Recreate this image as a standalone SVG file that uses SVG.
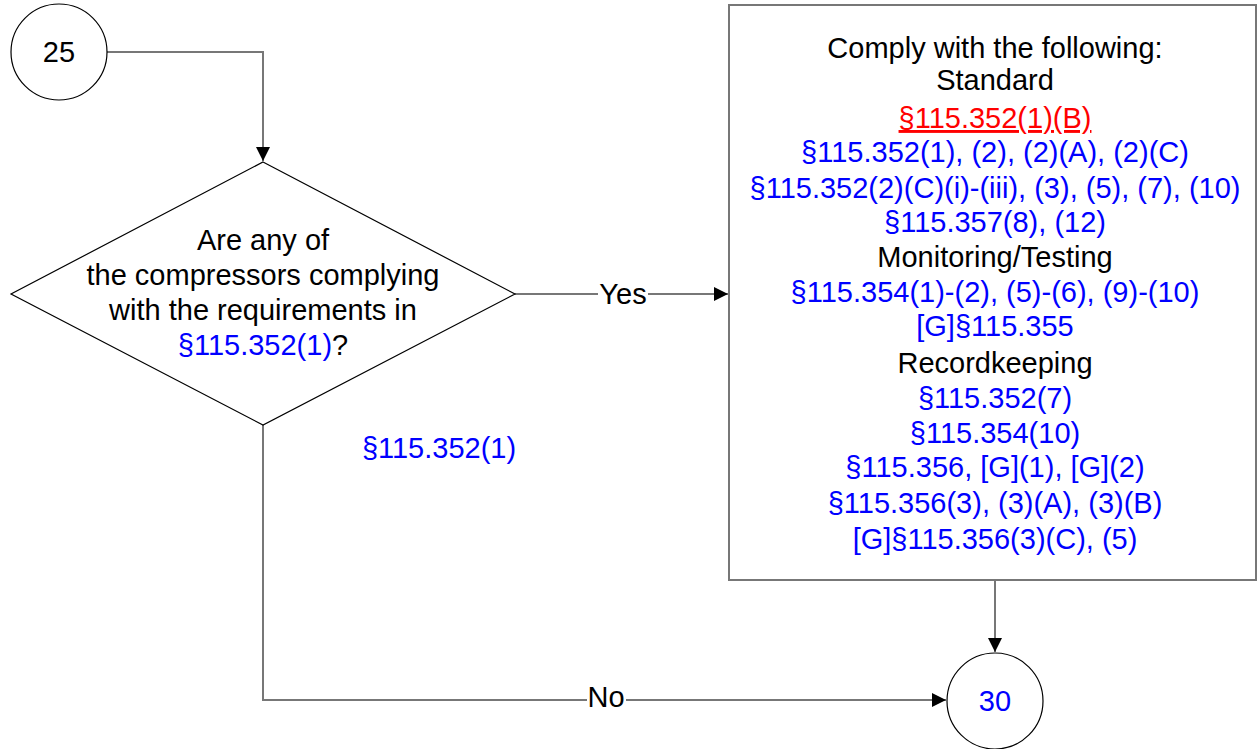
<svg xmlns="http://www.w3.org/2000/svg" width="1257" height="749" viewBox="0 0 1257 749">
<style>
text{font-family:"Liberation Sans",Arial,sans-serif;font-size:29px;text-anchor:middle;fill:#000}
.b{fill:#0000ff}
.r{fill:#ff0000;text-decoration:underline}
.shape{fill:#fff;stroke:#000;stroke-width:1.2}
.conn{fill:none;stroke:#777;stroke-width:2}
</style>
<defs>
<marker id="a" viewBox="0 0 14 14" refX="14" refY="7" markerWidth="14" markerHeight="14" markerUnits="userSpaceOnUse" orient="auto">
<path d="M0,0 L14,7 L0,14 z" fill="#000"/>
</marker>
</defs>
<g id="connectors">
<path class="conn" d="M107,52 H263 V161" marker-end="url(#a)"/>
<path class="conn" d="M515,294 H728" marker-end="url(#a)"/>
<path class="conn" d="M995,580 V652" marker-end="url(#a)"/>
<path class="conn" d="M263,425 V700 H946" marker-end="url(#a)"/>
<rect x="598" y="280" width="50" height="28" fill="#fff"/>
<text x="623" y="304">Yes</text>
<rect x="587" y="684" width="39" height="28" fill="#fff"/>
<text x="606" y="707">No</text>
<text class="b" x="439" y="458">§115.352(1)</text>
</g>
<g id="n25">
<circle class="shape" cx="59" cy="52" r="48"/>
<text x="59" y="62">25</text>
</g>
<g id="decision">
<polygon class="shape" points="263,162 515,294 263,425 11,294"/>
<text x="263" y="250">Are any of</text>
<text x="263" y="285">the compressors complying</text>
<text x="263" y="320">with the requirements in</text>
<text x="263" y="355"><tspan class="b">§115.352(1)</tspan>?</text>
</g>
<g id="comply">
<rect x="729" y="5" width="527" height="575" fill="#fff" stroke="#777" stroke-width="2"/>
<text x="995" y="58">Comply with the following:</text>
<text x="995" y="90">Standard</text>
<text class="r" x="995" y="128">§115.352(1)(B)</text>
<text class="b" x="995" y="162">§115.352(1), (2), (2)(A), (2)(C)</text>
<text class="b" x="995" y="198">§115.352(2)(C)(i)-(iii), (3), (5), (7), (10)</text>
<text class="b" x="995" y="232">§115.357(8), (12)</text>
<text x="995" y="267">Monitoring/Testing</text>
<text class="b" x="995" y="302">§115.354(1)-(2), (5)-(6), (9)-(10)</text>
<text class="b" x="995" y="336">[G]§115.355</text>
<text x="995" y="373">Recordkeeping</text>
<text class="b" x="995" y="408">§115.352(7)</text>
<text class="b" x="995" y="443">§115.354(10)</text>
<text class="b" x="995" y="477">§115.356, [G](1), [G](2)</text>
<text class="b" x="995" y="513">§115.356(3), (3)(A), (3)(B)</text>
<text class="b" x="995" y="549">[G]§115.356(3)(C), (5)</text>
</g>
<g id="n30">
<circle class="shape" cx="995" cy="701" r="48"/>
<text class="b" x="995" y="711">30</text>
</g>
</svg>
